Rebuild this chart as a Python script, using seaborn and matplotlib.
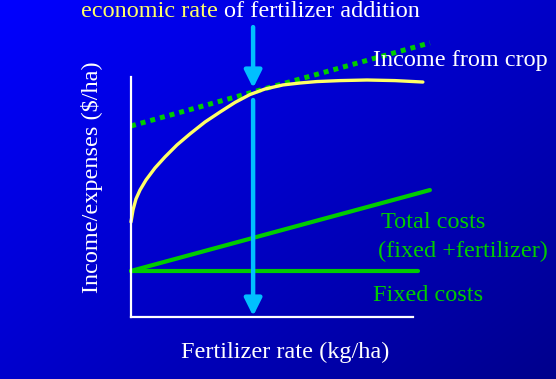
import numpy as np
import pandas as pd
import seaborn as sns
import matplotlib.pyplot as plt

sns.set_theme(style="white")
plt.rcParams['font.family'] = ['Liberation Serif', 'DejaVu Serif']

# dados (eixo x e y em unidades arbitrarias 0-100)
taxa_renda = [0, 0.71, 1.77, 3.19, 5.32, 8.51, 12.06, 16.31, 20.92, 26.24, 31.56,
              36.88, 42.2, 47.52, 53.9, 59.93, 65.96, 74.1, 83.7, 93.6, 103.5]
renda = [39.6, 44.6, 49.2, 52.9, 57.1, 62.1, 66.7, 71.7, 76.3, 81.25, 85.4,
         89.4, 92.7, 95.0, 96.7, 97.5, 98.1, 98.5, 98.75, 98.5, 97.9]

taxa_tangente = [0, 106]
tangente = [79.6, 114.2]

taxa_total = [0, 106]
custo_total = [19.2, 52.9]

taxa_fixo = [0, 101.8]
custo_fixo = [19.2, 19.2]

taxa_economica = 43.3
seta_cima = [120.8, 95.4]
seta_baixo = [90.4, 0.4]

W, H = 556, 379
fig = plt.figure(figsize=(W / 100, H / 100), dpi=100)

# fundo em degrade azul
bg = fig.add_axes([0, 0, 1, 1])
u = np.linspace(0, 1, 200)[None, :]
v = np.linspace(0, 1, 200)[:, None]
b = 255 - 55 * u - 50 * v - 10 * u * v
img = np.zeros((200, 200, 3))
img[..., 2] = b / 255
bg.imshow(img, extent=[0, 1, 0, 1], aspect='auto', origin='upper')
bg.axis('off')

ax = fig.add_axes([131 / W, 1 - 317 / H, 282 / W, 240 / H])
ax.set_facecolor('none')
ax.set_xlim(0, 100)
ax.set_ylim(0, 100)

verde = '#00CC00'
sns.lineplot(x=taxa_tangente, y=tangente, ax=ax, color=verde, lw=3.6,
             linestyle=(0, (1, 1)), dash_capstyle='butt', clip_on=False)
sns.lineplot(x=taxa_renda, y=renda, ax=ax, color='#FFFF66', lw=2.4,
             sort=False, clip_on=False, solid_joinstyle='round')
sns.lineplot(x=taxa_total, y=custo_total, ax=ax, color=verde, lw=3, clip_on=False)
sns.lineplot(x=taxa_fixo, y=custo_fixo, ax=ax, color=verde, lw=3, clip_on=False)

for ys in (seta_cima, seta_baixo):
    ax.annotate('', xy=(taxa_economica, ys[1]), xytext=(taxa_economica, ys[0]),
                annotation_clip=False,
                arrowprops=dict(arrowstyle='-|>', mutation_scale=26, lw=3.2,
                                color='#00BFFF', shrinkA=0, shrinkB=0))

for s in ['top', 'right']:
    ax.spines[s].set_visible(False)
for s in ['left', 'bottom']:
    ax.spines[s].set_color('white')
    ax.spines[s].set_linewidth(1.6)
ax.set_xticks([])
ax.set_yticks([])

fs = 17.5
def txt(px, py, s, c, **kw):
    fig.text(px / W, 1 - py / H, s, color=c, fontsize=fs, va='baseline', **kw)

txt(81, 17, 'economic rate', '#FFFF66')
txt(224, 17, 'of fertilizer addition', 'white')
txt(373, 66, 'Income from crop', 'white')
txt(381, 228, 'Total costs', verde)
txt(378, 257, '(fixed +fertilizer)', verde)
txt(373, 301, 'Fixed costs', verde)
txt(181, 358, 'Fertilizer rate (kg/ha)', 'white')
fig.text(92 / W, 1 - 177 / H, 'Income/expenses ($/ha)', color='white',
         fontsize=fs, rotation=90, ha='center', va='center')

plt.savefig('out.png', dpi=100)
